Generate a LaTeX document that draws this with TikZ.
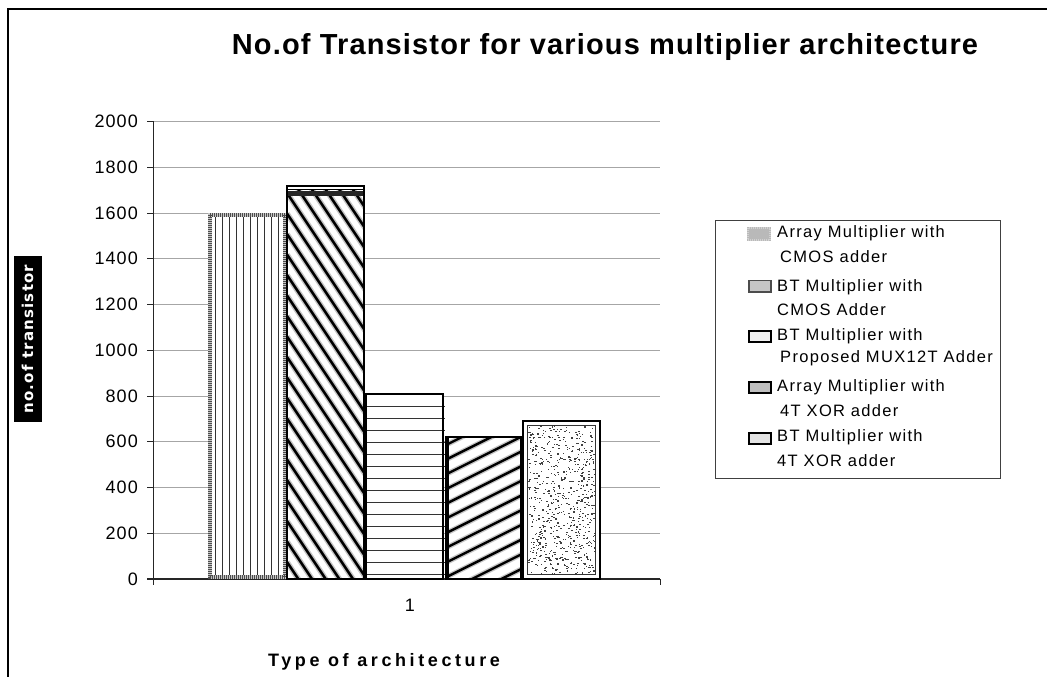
\documentclass[tikz,border=0pt]{standalone}
\usepackage{fontspec}
\setmainfont{Liberation Sans}
\newfontfamily\tickfont[LetterSpace=6]{Liberation Sans}
\newfontfamily\legfont[LetterSpace=8]{Liberation Sans}
\newfontfamily\titlefont[LetterSpace=4]{Liberation Sans}
\newfontfamily\axtitlefont[LetterSpace=20]{Liberation Sans}
\newfontfamily\blockfont[LetterSpace=8]{DejaVu Sans}
\begin{document}
\begin{tikzpicture}[x=1pt,y=-1pt,
  grid/.style={gray!70,line width=0.9},
  axisline/.style={black!85,line width=1.3},
  ticklabel/.style={inner sep=0,font=\fontsize{18}{21}\selectfont\tickfont},
  legtext/.style={inner sep=0,anchor=west,font=\fontsize{16.5}{19}\selectfont\legfont},
  barframe/.style={black,line width=1.8},
  swatch/.style={line width=1.6}]
\useasboundingbox (0,0) rectangle (1047,677);
\fill[white] (0,0) rectangle (1047,677);

% chart frame
\draw[line width=1.6] (8,677) -- (8,9) -- (1047,9);

% title
\node[inner sep=0,font=\fontsize{29}{34}\selectfont\titlefont\bfseries] (title) at (605,47)
  {No.of Transistor for various multiplier architecture};

% gridlines, ticks and value labels
\foreach \v in {0,200,...,2000}{
  \pgfmathsetmacro{\yy}{579-0.22875*\v}
  \ifnum\v>0 \draw[grid] (153,\yy) -- (660,\yy); \fi
  \draw[axisline,line width=1] (147,\yy) -- (153.5,\yy);
  \node[ticklabel,anchor=east] (tick\v) at (138,\yy) {\v};
}

% axes
\draw[axisline] (153.5,122) -- (153.5,579);
\draw[axisline] (147,579) -- (660,579);
\draw[axisline,line width=1] (153.5,579) -- (153.5,585);
\draw[axisline,line width=1] (660,579) -- (660,585);

% bar 1: vertical hatch, grey stippled outline
\fill[white] (208,213) rectangle (287,579);
\foreach \x in {215,222,...,281} \draw[black!80,line width=0.9] (\x,215) -- (\x,577);
\draw[gray!45,line width=3.8] (209.9,214.9) rectangle (285.1,577.1);
\draw[black!70,line width=3.8,dash pattern=on 1pt off 1pt] (209.9,214.9) rectangle (285.1,577.1);

% bar 2: wide falling diagonal stripes
\begin{scope}
  \clip (287,186) rectangle (364,579);
  \fill[white] (287,186) rectangle (364,579);
  \foreach \k in {0,...,26}{
    \draw[gray!45,line width=5.5] (287,{70+20.5*\k}) -- ++(90,135);
    \draw[black,line width=2.6] (287,{70+20.5*\k}) -- ++(90,135);
  }
  \fill[white] (287,186) rectangle (364,190);
  \fill[black!85] (287,190.5) rectangle (364,196);
\end{scope}
\draw[line width=1.1] (287,189.5) -- (364,189.5);
\draw[barframe] (287,186) rectangle (364,579);

% bar 3: horizontal hatch
\fill[white] (366,394) rectangle (443,579);
\foreach \j in {1,...,15} \draw[black!80,line width=0.9] (366,{394+12*\j}) -- (445,{394+12*\j});
\draw[barframe,line width=2] (366,394) rectangle (443,579);

% bar 4: rising diagonal stripes
\begin{scope}
  \clip (446,437) rectangle (521,579);
  \fill[white] (446,437) rectangle (521,579);
  \foreach \k in {0,...,14}{
    \draw[gray!45,line width=5] (446,{445+14.7*\k}) -- ++(100,-50);
    \draw[black,line width=2.4] (446,{445+14.7*\k}) -- ++(100,-50);
  }
\end{scope}
\draw[barframe,line width=2.6] (446,437) rectangle (521,579);
\draw[line width=2.5] (448,437) -- (448,579);

% bar 5: speckled fill, double outline
\fill[white] (523,421) rectangle (600,579);
\pgfmathsetseed{4711}
\begin{scope}
  \clip (528,426) rectangle (595,574);
  \foreach \i in {1,...,700}{
    \pgfmathsetmacro{\px}{528+67*rnd}
    \pgfmathsetmacro{\py}{426+148*rnd}
    \fill[black!75] (\px,\py) rectangle ++(1.5,1.1);
  }
\end{scope}
\draw[barframe,line width=2.6] (523,421) rectangle (600,579);
\draw[black!80,line width=0.8] (527.5,425.5) rectangle (595.5,574.5);

% category and axis titles
\node[ticklabel] (cat) at (410,605) {1};
\node[inner sep=0,font=\fontsize{18}{21}\selectfont\axtitlefont\bfseries] (xtitle) at (384,662)
  {Type of architecture};
\node[fill=black,text=white,rotate=90,inner sep=0,minimum width=166,minimum height=28,
  font=\fontsize{15}{18}\selectfont\blockfont\bfseries] (ytitle) at (27.5,339) {no.of transistor};

% legend
\draw[black!75,line width=1] (715,220) rectangle (1000,478);
\fill[gray!55] (747,227) rectangle (771,241);
\draw[gray!35,line width=2,dash pattern=on 1pt off 1pt] (748,228) rectangle (770,240);
\draw[swatch,black!70,fill=gray!45] (749,280.5) rectangle (771,292);
\draw[swatch,black,line width=2,fill=gray!12] (749,330.5) rectangle (771,341.5);
\draw[swatch,black,line width=2,fill=gray!50] (749,382) rectangle (771,393);
\draw[swatch,black,line width=2,fill=gray!22] (749,433) rectangle (771,443.5);

\node[legtext] (l1a) at (777,233) {Array Multiplier with};
\node[legtext] (l1b) at (780,257) {CMOS adder};
\node[legtext] (l2a) at (777,287) {BT Multiplier with};
\node[legtext] (l2b) at (777,309.5) {CMOS Adder};
\node[legtext] (l3a) at (777,336.5) {BT Multiplier with};
\node[legtext] (l3b) at (780,358.5) {Proposed MUX12T Adder};
\node[legtext] (l4a) at (777,387) {Array Multiplier with};
\node[legtext] (l4b) at (780,411) {4T XOR adder};
\node[legtext] (l5a) at (777,437.5) {BT Multiplier with};
\node[legtext] (l5b) at (777,460.5) {4T XOR adder};
\end{tikzpicture}
\end{document}
